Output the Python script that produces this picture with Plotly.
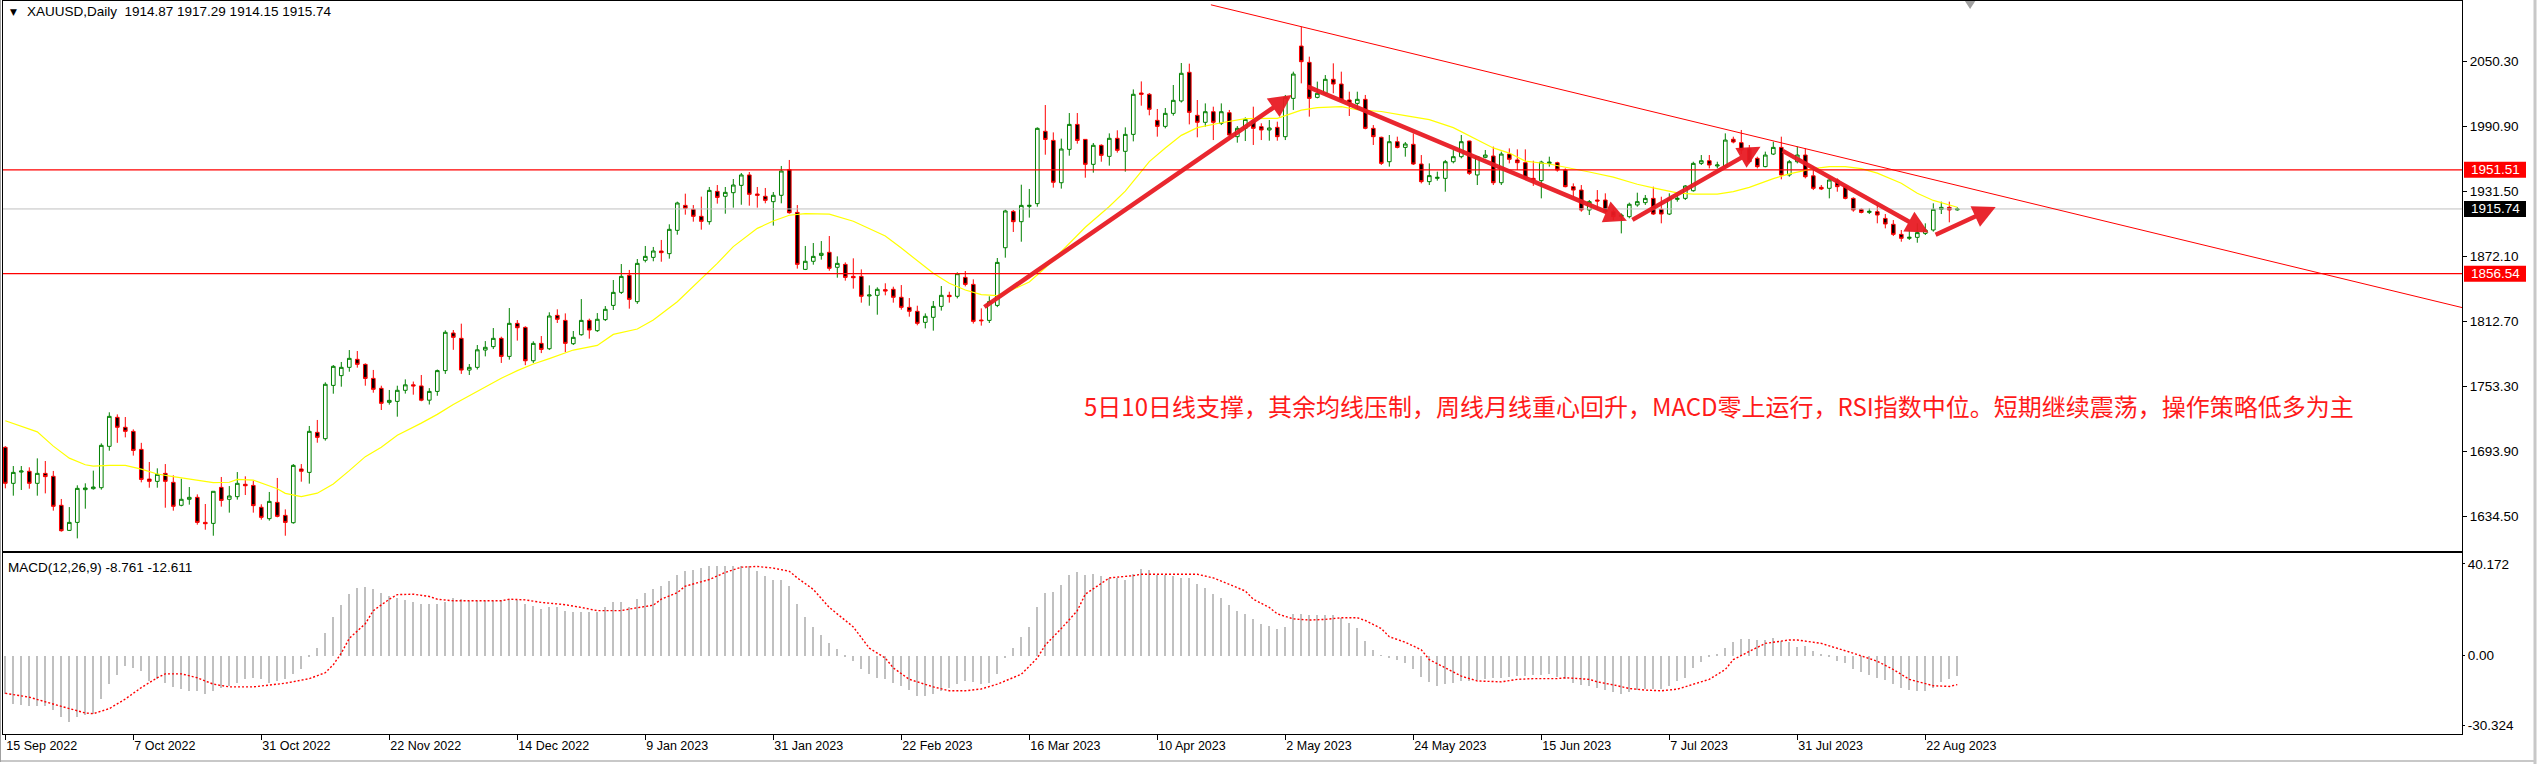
import pandas as pd
import plotly.graph_objects as go

# ---------------------------------------------------------------- data
trading_days = pd.bdate_range("2022-09-15", "2023-08-28", freq="C",
                              holidays=["2022-12-26", "2023-01-02", "2023-04-07"])

opens = [
    1697.9, 1665.0, 1675.3, 1676.0, 1665.0, 1674.1, 1671.4, 1644.9, 1622.0, 1629.3,
    1659.2, 1660.1, 1661.0, 1698.8, 1725.3, 1716.2, 1712.5, 1696.0, 1668.9, 1666.8,
    1674.1, 1665.9, 1644.9, 1650.4, 1652.2, 1629.3, 1628.4, 1661.3, 1650.4, 1652.8,
    1664.1, 1663.1, 1643.1, 1632.7, 1647.6, 1635.7, 1629.0, 1678.1, 1675.0, 1711.6,
    1705.8, 1754.5, 1763.4, 1771.0, 1778.3, 1773.7, 1760.9, 1751.8, 1739.0, 1739.9,
    1750.0, 1755.0, 1754.0, 1741.0, 1749.0, 1768.0, 1802.4, 1797.5, 1768.5, 1771.0,
    1786.8, 1789.9, 1797.5, 1781.0, 1811.2, 1807.5, 1777.0, 1792.9, 1788.0, 1818.5,
    1813.9, 1792.6, 1800.8, 1813.9, 1804.5, 1814.6, 1827.6, 1839.5, 1855.1, 1831.0,
    1868.8, 1871.5, 1877.3, 1874.9, 1896.2, 1919.0, 1915.4, 1909.0, 1904.1, 1931.8,
    1927.3, 1930.6, 1937.3, 1946.8, 1929.4, 1927.3, 1922.4, 1928.2, 1951.6, 1912.6,
    1860.5, 1867.9, 1873.3, 1876.1, 1862.4, 1865.1, 1854.1, 1854.1, 1836.2, 1836.8,
    1842.0, 1842.3, 1835.0, 1825.8, 1822.2, 1812.1, 1816.7, 1826.7, 1836.8, 1835.9,
    1853.2, 1846.8, 1814.2, 1813.9, 1827.6, 1880.3, 1913.5, 1904.1, 1918.1, 1920.6,
    1986.7, 1978.4, 1939.7, 1970.2, 1993.0, 1979.3, 1956.5, 1973.9, 1963.8, 1980.3,
    1968.4, 1983.9, 2021.7, 2020.5, 1996.7, 1991.2, 2003.1, 2014.4, 2040.6, 2001.3,
    1994.9, 2004.6, 1994.0, 2003.7, 1981.8, 1989.4, 1996.4, 1990.9, 1987.9, 1990.3,
    1981.8, 2016.8, 2064.6, 2049.7, 2017.7, 2021.4, 2034.2, 2029.9, 2015.3, 2012.2,
    2015.9, 1989.4, 1981.2, 1958.9, 1977.2, 1972.0, 1974.8, 1956.8, 1940.7, 1943.7,
    1943.7, 1958.9, 1963.5, 1977.8, 1946.8, 1962.9, 1964.1, 1939.7, 1965.9, 1960.5,
    1958.0, 1943.7, 1941.6, 1957.4, 1958.0, 1951.3, 1936.1, 1933.0, 1914.8, 1923.9,
    1923.9, 1913.2, 1908.7, 1908.7, 1919.4, 1921.5, 1925.4, 1915.4, 1911.1, 1924.5,
    1925.4, 1932.4, 1957.4, 1959.8, 1955.0, 1955.0, 1979.4, 1976.3, 1971.1, 1962.0,
    1954.4, 1965.9, 1972.0, 1946.8, 1958.9, 1965.0, 1946.0, 1935.5, 1934.6, 1942.2,
    1936.1, 1925.4, 1915.4, 1912.6, 1913.2, 1907.1, 1901.7, 1892.5, 1888.9, 1889.8,
    1893.4, 1896.5, 1915.4, 1917.2, 1914.87,
]
highs = [
    1699.0, 1680.8, 1680.8, 1679.6, 1687.8, 1685.4, 1676.3, 1650.7, 1643.3, 1663.2,
    1665.0, 1676.6, 1701.5, 1729.9, 1728.0, 1725.6, 1714.3, 1702.0, 1684.5, 1678.7,
    1682.6, 1672.3, 1669.2, 1661.6, 1654.9, 1646.1, 1657.7, 1670.8, 1662.5, 1675.3,
    1671.4, 1667.4, 1645.8, 1657.1, 1669.9, 1641.2, 1682.6, 1682.6, 1717.4, 1722.9,
    1757.3, 1773.1, 1775.9, 1786.8, 1785.9, 1774.6, 1768.6, 1754.2, 1750.3, 1754.2,
    1760.0, 1758.0, 1764.0, 1752.0, 1769.0, 1804.8, 1805.1, 1810.9, 1774.0, 1791.4,
    1795.0, 1806.9, 1799.0, 1825.2, 1814.2, 1808.5, 1794.8, 1799.6, 1821.3, 1824.0,
    1820.3, 1804.2, 1833.4, 1815.5, 1820.6, 1827.0, 1850.8, 1865.4, 1860.0, 1870.0,
    1881.9, 1881.0, 1887.4, 1901.7, 1922.4, 1929.7, 1919.3, 1927.0, 1935.8, 1937.6,
    1935.8, 1943.1, 1948.6, 1949.5, 1935.8, 1934.9, 1931.2, 1955.0, 1960.5, 1919.3,
    1881.9, 1884.6, 1886.4, 1891.0, 1872.4, 1866.9, 1870.6, 1860.5, 1845.9, 1844.1,
    1847.8, 1844.7, 1846.2, 1834.3, 1827.3, 1820.3, 1831.6, 1845.3, 1840.1, 1857.8,
    1859.0, 1851.4, 1824.9, 1835.9, 1870.9, 1915.1, 1914.8, 1937.9, 1934.0, 1990.3,
    2010.7, 1985.7, 1980.0, 2003.4, 2003.4, 1979.3, 1976.0, 1974.8, 1984.8, 1987.6,
    1990.3, 2025.0, 2032.3, 2021.7, 2007.1, 2008.0, 2029.0, 2049.1, 2048.5, 2015.3,
    2012.2, 2009.2, 2012.2, 2006.2, 1991.5, 1999.4, 2009.2, 1994.0, 1997.0, 1995.5,
    2019.9, 2041.2, 2082.3, 2054.9, 2032.1, 2038.1, 2048.8, 2041.2, 2022.9, 2022.9,
    2019.9, 1992.4, 1981.8, 1983.3, 1981.8, 1976.9, 1984.8, 1965.0, 1957.4, 1949.8,
    1960.5, 1969.6, 1983.3, 1978.1, 1964.1, 1969.6, 1972.7, 1968.1, 1971.1, 1970.2,
    1970.2, 1959.8, 1959.8, 1963.5, 1958.9, 1952.8, 1939.1, 1937.6, 1923.9, 1933.0,
    1930.0, 1916.3, 1911.7, 1921.5, 1930.6, 1928.5, 1936.1, 1926.9, 1930.0, 1928.5,
    1937.5, 1958.9, 1965.0, 1965.0, 1958.9, 1984.8, 1981.8, 1987.9, 1974.2, 1963.5,
    1968.1, 1977.2, 1981.8, 1960.5, 1972.7, 1971.1, 1954.4, 1937.6, 1943.7, 1943.7,
    1936.7, 1926.4, 1916.3, 1916.3, 1919.4, 1911.1, 1905.6, 1896.5, 1896.5, 1902.6,
    1902.6, 1920.9, 1922.4, 1922.4, 1917.29,
]
lows = [
    1660.4, 1653.7, 1658.9, 1660.1, 1653.7, 1655.8, 1640.0, 1620.8, 1621.4, 1614.7,
    1641.8, 1659.2, 1659.2, 1694.8, 1702.0, 1707.0, 1690.3, 1665.9, 1661.0, 1661.0,
    1642.7, 1640.0, 1644.0, 1645.5, 1627.2, 1622.6, 1617.1, 1643.7, 1638.2, 1650.1,
    1654.3, 1638.2, 1631.8, 1630.9, 1633.9, 1617.1, 1628.1, 1666.5, 1664.7, 1702.1,
    1704.0, 1746.9, 1753.3, 1767.0, 1770.7, 1754.2, 1747.8, 1732.0, 1736.9, 1725.9,
    1747.0, 1746.0, 1740.0, 1737.0, 1745.0, 1765.0, 1787.0, 1765.0, 1764.0, 1769.0,
    1781.0, 1787.7, 1775.0, 1778.0, 1795.4, 1773.0, 1775.0, 1784.0, 1786.8, 1811.5,
    1785.0, 1791.4, 1799.9, 1797.2, 1803.3, 1813.3, 1823.4, 1838.0, 1824.6, 1829.0,
    1866.9, 1867.9, 1867.5, 1870.3, 1892.2, 1910.5, 1904.1, 1896.8, 1901.4, 1920.6,
    1911.4, 1916.9, 1919.6, 1918.7, 1916.9, 1920.9, 1900.5, 1920.9, 1911.4, 1861.2,
    1859.9, 1864.8, 1869.4, 1859.3, 1852.9, 1850.2, 1842.9, 1830.1, 1827.3, 1819.1,
    1836.8, 1830.1, 1823.7, 1817.3, 1809.4, 1806.6, 1804.5, 1822.8, 1830.1, 1834.0,
    1845.0, 1811.0, 1809.1, 1811.5, 1826.0, 1871.2, 1894.7, 1885.8, 1907.8, 1917.8,
    1965.3, 1935.2, 1934.3, 1964.4, 1975.4, 1944.3, 1948.9, 1958.9, 1955.3, 1967.2,
    1949.8, 1977.5, 2010.1, 2001.3, 1981.8, 1989.4, 2001.0, 2013.0, 1993.0, 1981.2,
    1990.9, 1978.7, 1992.4, 1978.7, 1976.3, 1977.8, 1974.2, 1978.7, 1978.1, 1978.1,
    1978.7, 2006.2, 2030.5, 2000.1, 2016.8, 2020.0, 2021.4, 2013.8, 2000.7, 2006.2,
    1988.5, 1974.2, 1955.9, 1954.4, 1971.1, 1963.5, 1955.9, 1939.1, 1937.6, 1941.6,
    1931.5, 1957.4, 1962.0, 1946.8, 1937.6, 1962.0, 1937.6, 1937.6, 1957.4, 1951.3,
    1942.2, 1936.8, 1925.4, 1954.4, 1949.8, 1935.5, 1926.9, 1913.2, 1910.2, 1914.8,
    1911.7, 1905.6, 1893.4, 1907.2, 1917.8, 1919.4, 1910.2, 1902.6, 1910.2, 1922.4,
    1923.9, 1931.5, 1955.9, 1952.8, 1952.8, 1954.4, 1975.7, 1965.9, 1957.4, 1952.8,
    1953.8, 1965.0, 1942.8, 1945.2, 1957.4, 1943.7, 1933.0, 1933.0, 1925.4, 1931.5,
    1924.5, 1913.2, 1911.7, 1911.1, 1902.6, 1898.0, 1891.0, 1885.8, 1887.4, 1884.9,
    1891.9, 1895.0, 1911.1, 1903.5, 1914.15,
]
closes = [
    1665.0, 1675.0, 1676.2, 1665.0, 1674.1, 1671.1, 1644.0, 1621.7, 1629.3, 1660.4,
    1660.7, 1661.6, 1699.7, 1726.2, 1716.2, 1712.5, 1695.1, 1668.6, 1666.8, 1673.2,
    1666.8, 1644.0, 1650.4, 1652.2, 1629.3, 1628.1, 1657.7, 1649.4, 1653.4, 1665.0,
    1662.8, 1644.6, 1633.9, 1648.5, 1634.8, 1629.3, 1681.4, 1676.0, 1712.5, 1707.0,
    1755.5, 1771.9, 1771.0, 1779.2, 1773.7, 1760.9, 1750.9, 1738.1, 1740.8, 1750.0,
    1755.0, 1754.0, 1741.0, 1749.0, 1768.0, 1803.0, 1798.4, 1768.5, 1771.0, 1787.0,
    1789.3, 1797.5, 1781.0, 1811.2, 1807.2, 1777.0, 1792.9, 1787.4, 1817.9, 1814.9,
    1792.9, 1798.4, 1813.9, 1805.1, 1814.9, 1824.0, 1839.5, 1854.1, 1833.1, 1866.0,
    1872.4, 1877.3, 1875.8, 1897.1, 1921.2, 1916.3, 1909.0, 1904.4, 1932.7, 1926.3,
    1930.9, 1937.6, 1946.8, 1929.1, 1928.2, 1923.6, 1928.2, 1950.4, 1912.3, 1865.1,
    1867.9, 1872.4, 1875.2, 1861.5, 1866.0, 1853.2, 1852.9, 1835.9, 1837.1, 1842.3,
    1840.7, 1835.0, 1825.8, 1822.2, 1811.2, 1817.6, 1826.7, 1836.8, 1835.6, 1856.6,
    1846.8, 1813.0, 1813.6, 1831.0, 1866.9, 1913.9, 1904.1, 1919.0, 1919.0, 1989.4,
    1979.3, 1940.1, 1970.5, 1993.0, 1978.4, 1956.5, 1973.9, 1964.7, 1980.3, 1969.3,
    1983.9, 2020.5, 2020.5, 2006.8, 1991.2, 2003.1, 2015.0, 2039.7, 2004.0, 1994.9,
    2004.6, 1994.9, 2004.6, 1983.3, 1989.4, 1997.6, 1989.4, 1987.9, 1989.7, 1981.8,
    2017.7, 2039.0, 2050.3, 2016.8, 2021.4, 2034.2, 2029.9, 2015.3, 2012.2, 2015.9,
    1989.4, 1981.8, 1957.4, 1977.2, 1972.0, 1975.1, 1956.8, 1940.7, 1946.2, 1944.6,
    1958.9, 1963.5, 1977.2, 1948.3, 1963.5, 1965.0, 1939.7, 1965.9, 1961.1, 1958.0,
    1943.7, 1942.3, 1958.6, 1958.5, 1951.3, 1936.1, 1933.0, 1914.8, 1922.4, 1923.0,
    1913.2, 1908.7, 1910.2, 1920.0, 1922.4, 1925.4, 1911.1, 1911.1, 1925.4, 1925.4,
    1936.7, 1957.4, 1959.8, 1955.9, 1955.9, 1978.7, 1976.9, 1969.6, 1958.9, 1954.4,
    1965.0, 1972.0, 1946.8, 1958.9, 1965.0, 1945.2, 1934.6, 1934.0, 1942.2, 1936.1,
    1925.4, 1914.8, 1912.6, 1913.5, 1910.2, 1902.0, 1892.5, 1888.9, 1889.8, 1894.1,
    1896.5, 1915.4, 1917.2, 1914.8, 1915.74,
]

# moving average line (bar index, value)
ma_bars = [0, 4, 6, 8, 10, 11, 13, 15, 17, 19, 21, 24, 26, 28, 29, 31, 34, 35, 37, 39,
           41, 43, 45, 47, 49, 52, 54, 56, 58, 60, 62, 64, 66, 68, 71, 74, 76, 79, 81, 84,
           86, 89, 91, 94, 96, 98, 100, 103, 106, 108, 110, 112, 114, 116, 118, 120, 122,
           124, 125, 128, 130, 133, 135, 138, 140, 143, 145, 147, 149, 152, 155, 159, 162,
           164, 167, 169, 172, 175, 178, 181, 183, 186, 188, 190, 193, 195, 198, 201, 204,
           206, 209, 211, 214, 216, 218, 221, 223, 226, 228, 230, 232, 234, 237, 239, 241,
           244]
ma_vals = [1722.2, 1712.0, 1699.0, 1688.0, 1682.0, 1680.8, 1681.4, 1681.4, 1678.0, 1673.5,
           1671.1, 1667.8, 1665.6, 1666.0, 1668.6, 1668.0, 1660.0, 1655.8, 1652.8, 1656.0,
           1664.4, 1676.6, 1689.4, 1698.0, 1709.0, 1720.0, 1728.0, 1737.0, 1745.0, 1753.0,
           1761.0, 1768.0, 1774.0, 1779.0, 1786.8, 1791.0, 1801.1, 1806.0, 1814.2, 1831.0,
           1844.7, 1866.0, 1881.3, 1898.0, 1904.7, 1910.0, 1911.5, 1911.0, 1904.5, 1898.0,
           1891.0, 1880.0, 1868.5, 1856.9, 1847.8, 1841.7, 1837.5, 1836.5, 1839.0, 1849.0,
           1862.0, 1884.0, 1899.0, 1918.0, 1932.0, 1959.0, 1971.5, 1983.0, 1990.0, 1994.5,
           1998.3, 1998.5, 2006.0, 2008.3, 2009.2, 2006.4, 2004.8, 2001.0, 1997.3, 1990.0,
           1982.5, 1971.5, 1966.8, 1959.5, 1956.8, 1954.0, 1949.5, 1944.8, 1938.3, 1935.0,
           1930.4, 1929.2, 1929.3, 1931.5, 1935.5, 1943.5, 1947.8, 1952.6, 1954.4, 1954.4,
           1952.6, 1948.5, 1939.3, 1930.0, 1923.5, 1917.3]

# MACD(12,26,9) main values, one per bar
macd_main = [
    -16.7, -21.0, -21.3, -22.1, -22.1, -22.1, -23.9, -26.7, -28.9, -26.7,
    -26.0, -25.3, -19.1, -12.4, -8.4, -4.6, -5.3, -6.7, -11.0, -10.0,
    -11.7, -13.6, -14.6, -15.3, -15.3, -16.7, -15.3, -14.3, -13.1, -11.7,
    -10.3, -9.6, -10.3, -11.7, -11.0, -10.3, -8.1, -6.0, -0.3, 3.3,
    10.1, 16.9, 22.1, 26.9, 29.7, 30.2, 29.0, 27.6, 26.2, 25.4,
    24.4, 23.3, 22.6, 22.6, 22.6, 23.3, 25.2, 24.7, 24.0, 24.0,
    24.0, 24.0, 24.3, 24.7, 24.3, 22.6, 21.9, 20.4, 21.1, 21.1,
    19.7, 19.0, 19.0, 19.0, 19.0, 21.1, 23.3, 23.3, 21.1, 24.7,
    27.6, 29.0, 30.4, 32.6, 35.4, 36.9, 37.6, 38.3, 39.0, 39.0,
    39.0, 39.3, 39.3, 39.0, 36.9, 34.7, 33.3, 33.3, 30.4, 22.6,
    16.9, 12.6, 9.0, 5.4, 3.0, -0.3, -2.4, -6.0, -8.1, -9.6,
    -10.3, -11.7, -13.1, -15.0, -17.4, -17.4, -16.7, -15.3, -13.9, -12.4,
    -11.0, -11.5, -12.4, -11.7, -7.9, -1.0, 3.6, 8.3, 12.6, 21.1,
    27.2, 28.0, 30.9, 35.2, 36.6, 35.4, 35.7, 34.7, 34.0, 34.0,
    33.3, 35.9, 38.0, 37.6, 35.4, 35.4, 34.7, 34.0, 34.0, 31.2,
    29.7, 26.9, 25.4, 22.1, 19.7, 18.3, 16.1, 14.0, 13.0, 11.9,
    12.6, 18.3, 18.3, 17.6, 17.6, 17.9, 17.9, 16.6, 14.4, 12.1,
    6.4, 2.3, 0.1, -1.0, -1.7, -3.1, -6.0, -9.3, -11.3, -13.1,
    -12.4, -12.1, -11.0, -11.0, -10.7, -10.3, -9.9, -9.6, -9.3, -8.9,
    -8.9, -8.4, -8.4, -8.1, -9.3, -10.3, -11.7, -12.7, -13.1, -13.9,
    -15.0, -16.0, -16.7, -16.0, -15.0, -14.6, -14.6, -14.6, -13.1, -11.0,
    -9.6, -5.3, -2.7, -0.7, 0.7, 3.6, 6.1, 7.3, 7.3, 6.9,
    6.9, 7.6, 6.4, 5.9, 4.0, 4.3, 2.1, 0.4, -0.7, -2.1,
    -3.1, -6.0, -7.0, -8.4, -9.9, -10.7, -12.4, -13.9, -15.0, -15.3,
    -15.6, -13.9, -11.4, -10.3, -8.761,
]

# MACD signal line (bar index, value)
signal_bars = [0, 3, 7, 10, 11, 13, 15, 17, 19, 20, 22, 24, 26, 28, 31, 33, 35, 38, 40, 41,
               42, 43, 45, 46, 48, 49, 51, 53, 54, 56, 59, 62, 63, 65, 67, 70, 72, 74, 77, 78,
               81, 82, 84, 85, 88, 90, 92, 94, 96, 98, 99, 101, 103, 106, 108, 110, 111, 113,
               116, 118, 120, 122, 124, 127, 129, 130, 132, 134, 135, 137, 138, 141, 142, 145,
               149, 151, 153, 155, 156, 158, 159, 161, 163, 165, 167, 169, 170, 172, 173, 175,
               177, 178, 180, 182, 184, 187, 189, 191, 194, 195, 198, 199, 201, 203, 205, 207,
               209, 210, 213, 215, 216, 218, 220, 223, 224, 227, 229, 231, 234, 236, 238, 241,
               243, 244]
signal_vals = [-16.4, -18.1, -22.1, -25.0, -25.3, -23.1, -18.9, -13.9, -9.6, -7.9,
               -7.9, -9.6, -12.4, -13.6, -13.6, -12.9, -12.0, -10.0, -7.4, -3.9,
               1.1, 7.6, 14.0, 19.7, 24.7, 26.7, 26.9, 25.9, 24.7, 24.0,
               24.0, 24.0, 24.7, 24.4, 23.3, 22.3, 21.1, 19.7, 19.7, 20.4,
               22.1, 24.7, 27.6, 30.4, 33.3, 36.4, 38.7, 39.0, 38.3, 36.9,
               34.0, 29.0, 21.1, 12.6, 3.3, -1.0, -5.3, -10.3, -13.6, -15.3,
               -15.3, -14.5, -12.4, -8.1, -1.0, 4.7, 11.9, 19.7, 26.9, 31.9,
               34.0, 35.0, 35.6, 35.6, 35.6, 34.0, 31.2, 28.3, 24.7, 21.1,
               18.3, 16.1, 15.6, 15.9, 16.6, 16.6, 15.4, 11.9, 8.3, 5.9,
               2.6, -1.7, -5.3, -8.9, -11.0, -11.4, -10.3, -10.0, -10.0, -9.6,
               -10.3, -11.4, -12.7, -14.3, -15.0, -15.3, -14.6, -13.6, -10.3, -6.0,
               -1.7, 1.9, 5.4, 6.9, 6.9, 5.4, 3.3, 1.1, -2.4, -6.0,
               -10.3, -13.1, -13.4, -12.611]

# horizontal levels and current price
resistance_level = 1951.51
support_level = 1856.54
price_ticks = [1634.50, 1693.90, 1753.30, 1812.70, 1872.10, 1931.50, 1990.90, 2050.30]
macd_ticks = [-30.324, 0.0, 40.172]

# drawn analysis: trend line anchors and arrows (bar index, price)
trend_anchor_a = (162, 2082.3)
trend_anchor_b = (217, 1985.0)
trend_start_bar = 150.7
arrows = [
    ((122.2, 1825.2), (160.8, 2019.9)),
    ((162.6, 2028.1), (202.7, 1905.0)),
    ((203.2, 1905.0), (219.4, 1972.6)),
    ((222.0, 1969.6), (240.4, 1894.1)),
    ((241.1, 1891.6), (248.8, 1917.5)),
]
comment_text = "5日10日线支撑，其余均线压制，周线月线重心回升，MACD零上运行，RSI指数中位。短期继续震荡，操作策略低多为主"

# ---------------------------------------------------------------- layout constants
W, H = 2539, 764
PLOT_L, PLOT_R = 3, 2462
PRICE_TOP, PRICE_BOT = 1, 551
MACD_TOP, MACD_BOT = 553, 734
BAR_PX, FIRST_BAR_PX = 8.0, 5.3
price_range = [1603.15, 2105.77]
macd_range = [-34.18, 44.89]

FONT = "Liberation Sans"
idx = list(range(len(trading_days)))
x_range = [(PLOT_L - FIRST_BAR_PX) / BAR_PX, (PLOT_R - FIRST_BAR_PX) / BAR_PX]
tick_idx = idx[::16]
tick_text = [f"{d.day} {d.strftime('%b %Y')}" for d in trading_days[::16]]


def py(px):
    return 1 - px / H


def px_x(px):
    return px / W


price_per_px = (price_range[1] - price_range[0]) / (PRICE_BOT - PRICE_TOP)

fig = go.Figure()

fig.add_trace(go.Candlestick(
    x=idx, open=opens, high=highs, low=lows, close=closes,
    increasing=dict(line=dict(color="#008000", width=1), fillcolor="#ffffff"),
    decreasing=dict(line=dict(color="#ff0000", width=1), fillcolor="#000000"),
    whiskerwidth=0, xaxis="x", yaxis="y", hoverinfo="skip", showlegend=False,
))
fig.add_trace(go.Scatter(
    x=ma_bars, y=ma_vals, mode="lines", line=dict(color="#ffff00", width=1.2),
    xaxis="x", yaxis="y", hoverinfo="skip", showlegend=False,
))
fig.add_trace(go.Bar(
    x=idx, y=macd_main, width=0.22, marker=dict(color="#c0c0c0", line=dict(width=0)),
    xaxis="x2", yaxis="y2", hoverinfo="skip", showlegend=False,
))
fig.add_trace(go.Scatter(
    x=signal_bars, y=signal_vals, mode="lines",
    line=dict(color="#ff0000", width=1.4, dash="2px,2px"),
    xaxis="x2", yaxis="y2", hoverinfo="skip", showlegend=False,
))

shapes = []
# horizontal levels
for lvl, col in [(resistance_level, "#ff0000"), (support_level, "#ff0000"), (closes[-1], "#c0c0c0")]:
    shapes.append(dict(type="line", xref="x domain", yref="y", x0=0, x1=1, y0=lvl, y1=lvl,
                       line=dict(color=col, width=1.2 if col != "#c0c0c0" else 1), layer="above"))
# trend line
slope = (trend_anchor_b[1] - trend_anchor_a[1]) / (trend_anchor_b[0] - trend_anchor_a[0])
t_end = x_range[1]
shapes.append(dict(type="line", xref="x", yref="y",
                   x0=trend_start_bar, y0=trend_anchor_a[1] + slope * (trend_start_bar - trend_anchor_a[0]),
                   x1=t_end, y1=trend_anchor_a[1] + slope * (t_end - trend_anchor_a[0]),
                   line=dict(color="#ff0000", width=1), layer="above"))
# chart shift marker
sx = len(idx) + 0.6
shapes.append(dict(type="path", xref="x", yref="paper",
                   path=f"M {sx - 0.65},{py(1)} L {sx + 0.65},{py(1)} L {sx},{py(9)} Z",
                   fillcolor="#a0a0a0", line=dict(width=0)))
# price labels on the right scale
annotations = []
for lvl, bg in [(resistance_level, "#ff0000"), (support_level, "#ff0000"), (closes[-1], "#000000")]:
    half = 8 * price_per_px
    shapes.append(dict(type="rect", xref="paper", yref="y", x0=px_x(2464), x1=px_x(2526),
                       y0=lvl - half, y1=lvl + half, fillcolor=bg, line=dict(width=0)))
    annotations.append(dict(xref="paper", yref="y", x=px_x(2495), y=lvl, text=f"{lvl:.2f}",
                            showarrow=False, xanchor="center", yanchor="middle",
                            font=dict(family=FONT, size=13.5, color="#ffffff")))
# window edges
shapes.append(dict(type="line", xref="paper", yref="paper", x0=px_x(2535), x1=px_x(2535), y0=0, y1=1,
                   line=dict(color="#c8c8c8", width=3)))
shapes.append(dict(type="line", xref="paper", yref="paper", x0=0, x1=px_x(2536), y0=py(761), y1=py(761),
                   line=dict(color="#c8c8c8", width=2)))
shapes.append(dict(type="line", xref="paper", yref="paper", x0=px_x(0.5), x1=px_x(0.5), y0=py(762), y1=1,
                   line=dict(color="#a0a0a0", width=1)))

# arrows
for (x0, y0), (x1, y1) in arrows:
    annotations.append(dict(x=x1, y=y1, ax=x0, ay=y0, xref="x", yref="y", axref="x", ayref="y",
                            text="", showarrow=True, arrowhead=2, arrowsize=1.0, arrowwidth=4.5,
                            arrowcolor="rgba(232,28,36,0.95)", standoff=0, startstandoff=0))

# header texts
annotations.append(dict(xref="paper", yref="paper", x=px_x(8), y=py(12), text="▼", showarrow=False,
                        xanchor="left", yanchor="middle", font=dict(family="DejaVu Sans", size=9, color="#000000")))
annotations.append(dict(xref="paper", yref="paper", x=px_x(25), y=py(12),
                        text=f"XAUUSD,Daily  {opens[-1]:.2f} {highs[-1]:.2f} {lows[-1]:.2f} {closes[-1]:.2f}",
                        showarrow=False, xanchor="left", yanchor="middle",
                        font=dict(family=FONT, size=13.5, color="#000000")))
annotations.append(dict(xref="paper", yref="paper", x=px_x(6), y=py(567),
                        text=f"MACD(12,26,9) {macd_main[-1]:.3f} {signal_vals[-1]:.3f}",
                        showarrow=False, xanchor="left", yanchor="middle",
                        font=dict(family=FONT, size=13.5, color="#000000")))
annotations.append(dict(xref="paper", yref="paper", x=px_x(1082), y=py(405), text=comment_text,
                        showarrow=False, xanchor="left", yanchor="middle",
                        font=dict(family="Noto Sans CJK SC", size=24, color="#ff1a1a")))

dom_x = [px_x(PLOT_L), px_x(PLOT_R)]
axis_common = dict(showgrid=False, zeroline=False, showline=True, mirror=True,
                   linecolor="#000000", linewidth=1)

fig.update_layout(
    width=W, height=H, margin=dict(l=0, r=0, t=0, b=0),
    paper_bgcolor="#ffffff", plot_bgcolor="#ffffff",
    showlegend=False, hovermode=False, boxgap=0.35, bargap=0,
    xaxis=dict(domain=dom_x, anchor="y", range=x_range, showticklabels=False, ticks="",
               rangeslider=dict(visible=False), **axis_common),
    yaxis=dict(domain=[py(PRICE_BOT), py(PRICE_TOP)], anchor="x", range=price_range, side="right",
               tickvals=price_ticks, ticktext=[f"{v:.2f}" for v in price_ticks],
               ticks="outside", ticklen=4, tickcolor="#000000",
               tickfont=dict(family=FONT, size=13.5, color="#000000"), **axis_common),
    xaxis2=dict(domain=dom_x, anchor="y2", range=x_range, matches="x",
                tickvals=tick_idx, ticktext=tick_text, ticks="outside", ticklen=5, tickcolor="#000000",
                ticklabelposition="outside right",
                tickfont=dict(family=FONT, size=12.5, color="#000000"), **axis_common),
    yaxis2=dict(domain=[py(MACD_BOT), py(MACD_TOP)], anchor="x2", range=macd_range, side="right",
                tickvals=macd_ticks, ticktext=["-30.324", "0.00", "40.172"],
                ticks="outside", ticklen=2, tickcolor="#000000",
                tickfont=dict(family=FONT, size=13.5, color="#000000"), **axis_common),
    shapes=shapes, annotations=annotations,
)

fig.write_html("out.html")
